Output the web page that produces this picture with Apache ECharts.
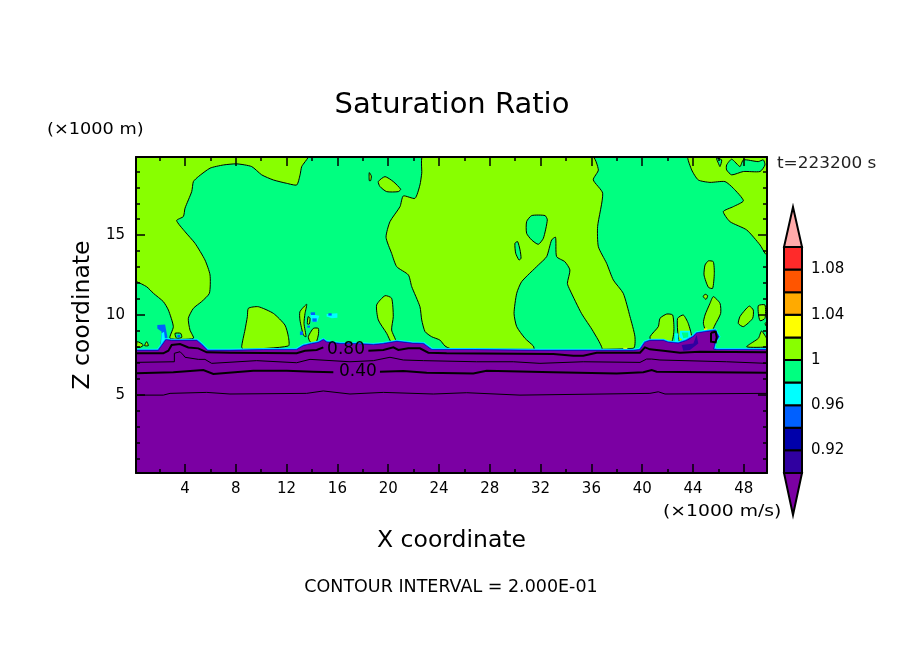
<!DOCTYPE html>
<html>
<head>
<meta charset="utf-8">
<script src="https://cdn.jsdelivr.net/npm/echarts@6/dist/echarts.min.js"></script>
<style>
html, body { margin: 0; padding: 0; background: #fff; }
#chart { width: 904px; height: 654px; }
</style>
</head>
<body>
<div id="chart"></div>
<script>
var x_range = [0.14, 49.83];
var z_range = [0.1, 19.9];
var x_major = [4, 8, 12, 16, 20, 24, 28, 32, 36, 40, 44, 48];
var x_minor = [2, 6, 10, 14, 18, 22, 26, 30, 34, 38, 42, 46];
var z_major = [5, 10, 15];
var z_minor = [1, 2, 3, 4, 6, 7, 8, 9, 11, 12, 13, 14, 16, 17, 18, 19];

var color_levels = [0.90, 0.92, 0.94, 0.96, 0.98, 1.00, 1.02, 1.04, 1.06, 1.08, 1.10];
var color_fill = ['#3000a0', '#0000aa', '#0060ff', '#00ffff', '#00ff80',
		  '#88ff00', '#ffff00', '#ffaa00', '#ff5500', '#ff2a2a'];
var color_under = '#7b00a3';
var color_over = '#ffaaaa';
var color_ticks = [0.92, 0.96, 1, 1.04, 1.08];
var bar_tips = [0.8628, 1.1354];

/* saturation ratio above 1.00, in (x, z) of the plot */
var lime_regions = [
    [[13.71,20],[13.19,19.30],[13.06,18.78],[12.80,18.15],[12.01,18.25],[10.96,18.46],[10.04,18.78],[9.25,19.30],[8.07,19.47],[7.02,19.40],[5.97,19.20],[5.05,18.67],[4.66,18.36],[4.53,17.74],[4.00,16.69],[3.87,16.17],[3.34,15.92],[4.00,15.22],[4.79,14.49],[5.57,13.45],[5.97,12.51],[5.92,11.36],[5.31,10.84],[4.66,10.42],[4.26,9.79],[4.39,9.06],[4.66,8.54],[2.82,8.54],[3.08,9.27],[2.69,10.31],[2.29,10.84],[1.51,11.36],[0.98,11.77],[0.19,12.09],[0,12.09],[0,20]],
    [[22.77,20],[22.64,18.88],[22.50,18.15],[22.11,17.31],[21.19,17.46],[20.93,16.79],[20.14,15.85],[19.83,14.87],[20.27,13.86],[20.67,13.03],[21.59,12.51],[21.85,11.78],[22.50,10.52],[22.64,9.69],[22.90,8.96],[23.42,8.64],[24.07,8.43],[24.47,8.06],[24.9,7.9],[39.30,7.91],[39.43,8.64],[39.04,9.90],[38.51,11.36],[37.73,12.19],[37.20,13.24],[36.55,14.28],[36.49,15.54],[36.89,17.63],[36.15,18.47],[36.55,19.09],[36.02,20]],
    [[43.63,20],[43.90,19.09],[44.42,18.46],[45.34,18.31],[46.52,18.36],[47.18,17.94],[47.97,17.16],[47.18,16.79],[46.39,16.48],[46.91,15.85],[48.23,15.33],[49.28,14.39],[49.67,13.87],[49.80,13.76],[50,13.76],[50,20]],
    [[18.51,18.92],[18.67,18.71],[18.62,18.42],[18.51,18.42]],
    [[19.22,18.36],[19.75,18.67],[20.40,18.36],[20.98,17.88],[20.80,17.73],[19.88,17.73],[19.35,18.05]],
    [[8.99,10.42],[9.77,10.52],[10.96,10.10],[11.87,9.37],[12.14,8.64],[12.14,8.06],[8.59,7.85],[8.46,8.01],[8.72,9.06],[8.91,9.90]],
    [[13.58,10.67],[13.45,10.10],[13.37,9.47],[13.53,8.64],[13.32,8.74],[13.05,9.69],[13.05,10.21]],
    [[13.70,9.90],[13.84,9.79],[13.79,9.44],[13.63,9.44]],
    [[14.10,9.16],[14.50,9.16],[14.50,8.75],[14.24,8.12],[13.84,8.33],[13.71,8.64]],
    [[19.75,11.21],[20.27,11.05],[20.40,9.90],[20.27,9.06],[20.62,8.33],[20.27,8.26],[19.88,8.85],[19.22,9.69],[19.09,10.63]],
    [[0.25,8.33],[0.72,8.12],[0.46,7.97],[0.19,8.01]],
    [[0.98,8.33],[1.11,8.08],[0.82,8.08]],
    [[45.21,13.39],[45.60,13.34],[45.68,12.61],[45.55,11.67],[45.21,11.74],[44.87,12.51],[44.95,13.13]],
    [[44.95,11.30],[45.16,11.21],[45.03,10.98],[44.81,11.15]],
    [[45.60,11.15],[46.13,10.73],[46.18,10.10],[45.73,9.37],[45.47,8.96],[45.08,8.89],[44.82,9.48],[44.95,10.00],[45.34,10.73]],
    [[48.44,10.56],[48.75,10.31],[48.70,9.79],[47.97,9.27],[47.57,9.47],[47.70,9.90],[48.10,10.31]],
    [[49.15,10.59],[49.67,10.63],[49.67,9.79],[49.28,9.64],[49.15,10.10]],
    [[49.40,9.00],[49.80,8.54],[50,8.2],[50,8.01],[48.23,8.01],[49.15,8.54]],
    [[49.67,9.47],[50,9.58],[50,9.06]],
    [[40.62,8.64],[41.27,9.27],[41.40,9.79],[41.93,10.06],[42.40,10.00],[42.50,9.06],[42.32,8.33],[41.40,8.26],[40.75,8.26]],
    [[42.79,9.79],[43.24,10.00],[43.63,9.47],[43.90,8.54],[43.24,8.43],[42.92,8.33],[42.79,9.06]]
];

/* patches back below 1.00 inside the lime regions */
var green_holes = [
    [[36.81,7.8],[36.15,8.96],[35.22,10.10],[34.31,11.57],[34.11,11.98],[34.31,12.82],[33.91,13.34],[33.26,13.66],[33.18,14.87],[32.87,14.70],[32.48,13.66],[31.82,13.13],[30.51,12.09],[30.12,11.36],[29.91,10.10],[30.12,9.27],[30.77,8.54],[31.43,8.06],[31.56,7.8]],
    [[31.30,16.23],[32.35,16.23],[32.53,15.96],[32.22,14.81],[31.82,14.43],[31.30,14.70],[30.90,15.12],[30.90,15.85]],
    [[29.98,14.49],[30.19,14.60],[30.38,14.08],[30.46,13.55],[30.30,13.45],[30.04,13.87]],
    [[46.65,19.40],[47.05,19.76],[47.70,19.30],[47.97,19.72],[49.14,19.61],[49.54,19.72],[49.67,19.40],[49.28,18.99],[47.97,18.99],[47.05,18.78],[46.65,19.09]],
    [[45.86,19.82],[46.26,19.72],[46.13,19.30],[46.00,19.51]],
    [[3.21,8.85],[3.66,8.85],[3.74,8.60],[3.34,8.54]]
];

var surface = [[0,7.76],[1.90,7.76],[2.50,8.43],[2.95,8.39],[4.92,8.39],[5.31,8.12],[5.76,7.76],[7.54,7.76],[10.17,7.81],[12.79,7.81],[13.32,8.06],[13.97,8.18],[14.50,8.26],[14.89,8.43],[15.15,8.29],[16.20,8.18],[17.52,8.18],[18.83,8.12],[19.62,8.18],[20.67,8.33],[21.85,8.22],[22.77,8.18],[23.42,7.81],[26.70,7.81],[31.95,7.76],[39.30,7.76],[39.83,7.81],[40.22,8.27],[40.61,8.39],[41.67,8.39],[42.06,8.27],[42.85,8.22],[43.50,8.39],[44.03,8.64],[44.29,8.85],[45.08,8.95],[45.73,9.02],[45.99,8.64],[45.73,8.33],[45.60,7.85],[45.87,7.81],[50,7.81],[50,0],[0,0]];

var cyan_flecks = [
    [[13.84,10.06],[14.58,9.96],[14.42,9.58],[13.97,9.58]],
    [[15.15,10.06],[16.00,10.11],[16.00,9.83],[15.55,9.79],[15.15,9.90]],
    [[2.16,8.85],[2.35,8.95],[2.43,8.43],[2.29,8.01],[2.09,7.91]],
    [[42.58,8.85],[42.85,8.85],[42.85,8.31],[42.58,8.31]],
    [[42.98,9.01],[43.76,9.01],[43.82,8.54],[43.24,8.39],[42.92,8.64]]
];
var blue_flecks = [
    [[14.03,9.79],[14.37,9.79],[14.37,9.58],[14.03,9.58]],
    [[13.90,10.17],[14.24,10.17],[14.24,10.00],[13.90,10.00]],
    [[15.29,10.11],[15.55,10.11],[15.55,9.96],[15.29,9.96]],
    [[13.05,8.96],[13.32,8.96],[13.27,8.75],[13.05,8.75]],
    [[13.63,9.33],[13.84,9.33],[13.84,9.21],[13.63,9.21]],
    [[3.40,8.75],[3.61,8.75],[3.61,8.60],[3.40,8.60]]
];
var blue_spike = [[1.82,9.37],[2.43,9.41],[2.61,8.64],[2.56,8.01],[2.03,7.91],[2.16,8.95],[1.82,9.16]];
var cluster_hole = [[43.11,8.90],[43.63,8.90],[43.63,8.60],[43.24,8.54]];
var indigo_patch = [[43.11,8.12],[44.03,8.22],[44.29,8.76],[44.42,8.22],[43.76,7.80],[43.24,7.76]];
var yellow_flecks = [
    [[38.51,7.95],[38.83,7.95],[38.83,7.85],[38.51,7.85]],
    [[44.87,9.16],[45.13,9.16],[45.13,8.96],[44.87,8.96]]
];

var line_080_a = [[0,7.60],[2.29,7.60],[2.69,7.76],[2.95,8.12],[3.61,8.18],[4.26,7.97],[5.05,7.91],[5.71,7.66],[7.54,7.64],[12.79,7.60],[13.45,7.76],[14.37,7.81],[14.89,7.97]];
var line_080_b = [[18.44,7.76],[19.62,7.81],[20.41,7.97],[20.80,7.81],[21.59,7.91],[22.50,7.91],[23.16,7.64],[24.60,7.60],[33.0,7.56],[34.58,7.45],[35.36,7.45],[36.42,7.64],[39.83,7.64],[40.22,7.97],[40.61,7.85],[41.67,7.76],[42.98,7.64],[44.55,7.70],[49.80,7.66],[50,7.66]];
var line_080_c = [[45.42,8.89],[45.79,8.95],[45.87,8.60],[45.79,8.29],[45.42,8.33],[45.42,8.89]];
var line_060 = [[0,7.03],[3.16,7.07],[3.16,7.60],[3.61,7.70],[3.87,7.49],[4.0,7.35],[5.05,7.22],[5.57,7.22],[6.10,6.97],[9.64,7.14],[12.79,7.01],[13.84,7.22],[16.99,7.07],[18.83,7.14],[20.14,7.35],[21.19,7.18],[22.77,7.14],[26.97,7.07],[29.85,7.07],[31.95,6.97],[35.36,7.07],[39.83,7.03],[40.35,7.24],[40.75,7.24],[41.40,7.18],[46.65,7.07],[49.80,6.97],[50,6.97]];
var line_040_a = [[0,6.34],[3.08,6.41],[5.44,6.55],[6.23,6.30],[9.38,6.51],[12.01,6.51],[14.11,6.45],[15.68,6.41]];
var line_040_b = [[19.35,6.45],[21.19,6.49],[23.03,6.38],[26.70,6.34],[27.75,6.51],[33.0,6.41],[37.99,6.34],[40.09,6.41],[40.75,6.55],[41.14,6.45],[49.80,6.38],[50,6.38]];
var line_020 = [[0,4.98],[2.29,4.98],[2.82,5.09],[5.71,5.15],[7.54,5.05],[13.58,5.09],[14.89,5.24],[16.99,5.05],[19.62,5.15],[23.55,5.05],[26.18,5.13],[30.38,4.98],[40.61,5.09],[41.27,5.19],[41.80,5.05],[49.80,5.09],[50,5.09]];

var contour_labels = [
    {text: '0.80', x: 16.68, z: 7.81},
    {text: '0.40', x: 17.62, z: 6.43}
];

var text_font = '"DejaVu Sans", sans-serif';

/* Each layer is drawn in order: a filled or open path through the data axes */
function plot_layers()
{
    var layers = [{points: [[0,0],[50,0],[50,20],[0,20]], fill: color_fill[4]}];

    lime_regions.forEach((p) => layers.push({points: p, fill: color_fill[5], stroke: '#000', width: 1, smooth: 0.2}));
    green_holes.forEach((p) => layers.push({points: p, fill: color_fill[4], stroke: '#000', width: 1, smooth: 0.2}));
    cyan_flecks.forEach((p) => layers.push({points: p, fill: color_fill[3]}));
    blue_flecks.forEach((p) => layers.push({points: p, fill: color_fill[2]}));
    yellow_flecks.forEach((p) => layers.push({points: p, fill: color_fill[6]}));

    layers.push({points: blue_spike, fill: color_fill[2]});
    layers.push({points: cyan_flecks[2], fill: color_fill[3]});
    layers.push({points: surface, fill: color_fill[3], stroke: color_fill[3], width: 4});
    layers.push({points: surface, fill: color_fill[2], stroke: color_fill[2], width: 2.5});
    layers.push({points: surface, fill: color_fill[1], stroke: color_fill[1], width: 1});
    layers.push({points: surface, fill: color_under});
    layers.push({points: indigo_patch, fill: color_fill[0]});
    layers.push({points: cluster_hole, fill: color_fill[4]});

    layers.push({points: line_080_a, stroke: '#000', width: 2, open: true});
    layers.push({points: line_080_b, stroke: '#000', width: 2, open: true});
    layers.push({points: line_080_c, stroke: '#000', width: 2, open: true});
    layers.push({points: line_060, stroke: '#000', width: 1, open: true});
    layers.push({points: line_040_a, stroke: '#000', width: 2, open: true});
    layers.push({points: line_040_b, stroke: '#000', width: 2, open: true});
    layers.push({points: line_020, stroke: '#000', width: 1, open: true});

    return layers;
}

function bar_layers()
{
    var layers = [];
    var n = color_fill.length;

    for (var i = 0; i < n; i++) {
	layers.push({
	    points: [[0,color_levels[i]],[1,color_levels[i]],[1,color_levels[i+1]],[0,color_levels[i+1]]],
	    fill: color_fill[i]
	});
    }
    layers.push({points: [[0,color_levels[0]],[1,color_levels[0]],[0.5,bar_tips[0]]], fill: color_under});
    layers.push({points: [[0,color_levels[n]],[1,color_levels[n]],[0.5,bar_tips[1]]], fill: color_over});

    return layers.map((l) => Object.assign(l, {stroke: '#000', width: 2}));
}

function layer_series(layers, axis_index, clip)
{
    return {
	type: 'custom',
	coordinateSystem: 'cartesian2d',
	xAxisIndex: axis_index,
	yAxisIndex: axis_index,
	clip: clip,
	silent: true,
	data: layers.map((l, i) => [i]),
	renderItem: function (params, api) {
	    var l = layers[params.dataIndex];
	    var pts = l.points.map((p) => api.coord(p));
	    return {
		type: l.open ? 'polyline' : 'polygon',
		shape: {points: pts, smooth: l.smooth || 0},
		style: {
		    fill: l.open ? 'none' : l.fill,
		    stroke: l.stroke || 'none',
		    lineWidth: l.width || 0
		}
	    };
	}
    };
}

function label_series()
{
    return {
	type: 'custom',
	coordinateSystem: 'cartesian2d',
	xAxisIndex: 0,
	yAxisIndex: 0,
	silent: true,
	data: contour_labels.map((l, i) => [l.x, l.z]),
	renderItem: function (params, api) {
	    var p = api.coord([api.value(0), api.value(1)]);
	    return {
		type: 'text',
		x: p[0],
		y: p[1],
		style: {
		    text: contour_labels[params.dataIndex].text,
		    fill: '#000',
		    font: '17px ' + text_font,
		    align: 'center',
		    verticalAlign: 'middle'
		}
	    };
	}
    };
}

function x_axis(position, ticks, length, labelled, line)
{
    return {
	type: 'value', gridIndex: 0, position: position, z: 5,
	min: x_range[0], max: x_range[1],
	splitLine: {show: false},
	axisLine: {show: line, onZero: false, lineStyle: {color: '#000', width: 2}},
	axisTick: {show: true, inside: true, length: length, customValues: ticks,
		   lineStyle: {color: '#000', width: 1.5}},
	axisLabel: labelled ?
	    {show: true, customValues: ticks, margin: 9, color: '#000', fontSize: 15, fontFamily: text_font} :
	    {show: false}
    };
}

function y_axis(position, ticks, length, labelled, line)
{
    return {
	type: 'value', gridIndex: 0, position: position, z: 5,
	min: z_range[0], max: z_range[1],
	splitLine: {show: false},
	axisLine: {show: line, onZero: false, lineStyle: {color: '#000', width: 2}},
	axisTick: {show: true, inside: true, length: length, customValues: ticks,
		   lineStyle: {color: '#000', width: 1.5}},
	axisLabel: labelled ?
	    {show: true, customValues: ticks, margin: 11, color: '#000', fontSize: 15, fontFamily: text_font} :
	    {show: false}
    };
}

function note(text, x, y, size, stretch, color, align)
{
    return {
	type: 'text', x: x, y: y, scaleX: stretch, silent: true, z: 50,
	style: {
	    text: text, fill: color || '#000', align: align || 'left', verticalAlign: 'middle',
	    font: size + 'px ' + text_font
	}
    };
}

function setup_chart()
{
    var chart = echarts.init(document.getElementById('chart'));

    var xs = [
	x_axis('bottom', x_major, 9, true, true),
	x_axis('bottom', x_minor, 4, false, false),
	x_axis('top', x_major, 9, false, true),
	x_axis('top', x_minor, 4, false, false)
    ];
    var ys = [
	y_axis('left', z_major, 9, true, true),
	y_axis('left', z_minor, 4, false, false),
	y_axis('right', z_major, 9, false, true),
	y_axis('right', z_minor, 4, false, false)
    ];

    Object.assign(xs[0], {
	name: 'X coordinate', nameLocation: 'middle', nameGap: 56,
	nameTextStyle: {color: '#000', fontSize: 23.5, fontFamily: text_font}
    });
    Object.assign(ys[0], {
	name: 'Z coordinate', nameLocation: 'middle', nameGap: 41,
	nameTextStyle: {color: '#000', fontSize: 23.5, fontFamily: text_font}
    });

    xs.push({
	type: 'value', gridIndex: 1, min: 0, max: 1, show: false
    });
    ys.push({
	type: 'value', gridIndex: 1, min: bar_tips[0], max: bar_tips[1], position: 'right',
	splitLine: {show: false},
	axisLine: {show: false},
	axisTick: {show: false},
	axisLabel: {
	    show: true, customValues: color_ticks, margin: 9, color: '#000',
	    fontSize: 15, fontFamily: text_font
	}
    });

    chart.setOption({
	animation: false,
	backgroundColor: '#fff',
	title: {
	    text: 'Saturation Ratio',
	    left: 452, top: 105, padding: 0, textAlign: 'center', textVerticalAlign: 'middle',
	    textStyle: {color: '#000', fontSize: 29, fontWeight: 'normal', fontFamily: text_font}
	},
	grid: [
	    {left: 136, top: 157, width: 631, height: 316},
	    {left: 784, top: 207, width: 18, height: 308}
	],
	xAxis: xs,
	yAxis: ys,
	series: [
	    layer_series(plot_layers(), 0, true),
	    label_series(),
	    layer_series(bar_layers(), 4, false)
	],
	graphic: [
	    note('(\u00d71000 m)', 47, 130, 15, 1.18),
	    note('(\u00d71000 m/s)', 663, 512, 15, 1.25),
	    note('t=223200 s', 777, 164, 15, 1.125, '#222'),
	    note('CONTOUR INTERVAL = 2.000E-01', 451, 587.5, 17.5, 1, '#000', 'center')
	]
    });
}

setup_chart()
</script>
</body>
</html>
